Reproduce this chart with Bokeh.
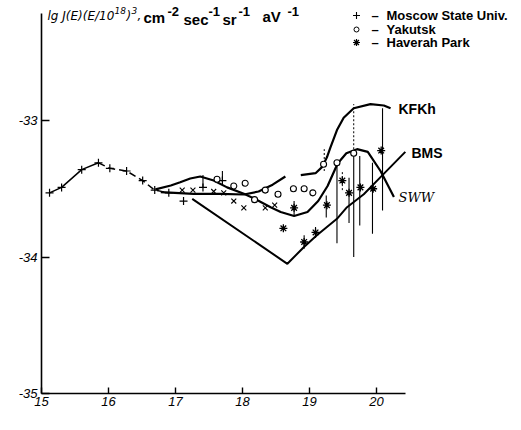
from bokeh.plotting import figure
from bokeh.models import Range1d, FixedTicker, Label
from bokeh.core.properties import value
from bokeh.embed import file_html
from bokeh.resources import INLINE

nan = float("nan")

# ---- data (lg E in eV, lg J(E)E^3 ...) ----
xticks = [15, 16, 17, 18, 19, 20]
xtick_labels = ["15", "16", "17", "18", "19", "20"]
yticks = [-35, -34, -33]
ytick_labels = ["-35", "-34", "-33"]

moscow_x = [15.12, 15.30, 15.60, 15.85, 16.02, 16.27, 16.51, 16.69, 16.90, 17.12, 17.41, 17.70]
moscow_y = [-33.53, -33.49, -33.36, -33.31, -33.35, -33.37, -33.44, -33.51, -33.53, -33.59, -33.49, -33.44]

yakutsk_x = [17.62, 17.87, 18.04, 18.18, 18.34, 18.53, 18.76, 18.92, 19.05, 19.21, 19.41, 19.66]
yakutsk_y = [-33.43, -33.48, -33.46, -33.58, -33.51, -33.54, -33.50, -33.50, -33.53, -33.32, -33.31, -33.24]

haverah_small_x = [17.10, 17.26, 17.57, 17.72, 17.87, 18.02, 18.34, 18.48]
haverah_small_y = [-33.51, -33.51, -33.52, -33.53, -33.59, -33.64, -33.64, -33.62]

haverah_big_x = [18.61, 18.77, 18.92, 19.09, 19.26, 19.49, 19.59, 19.76, 19.95, 20.07]
haverah_big_y = [-33.79, -33.64, -33.89, -33.82, -33.62, -33.44, -33.53, -33.49, -33.50, -33.22]

# error bars (solid)
bar_x = [17.41, 17.70, 18.77, 18.92, 19.09, 19.25, 19.41, 19.59, 19.66, 19.75, 19.94, 20.09]
bar_lo = [-33.49, -33.45, -33.70, -33.94, -33.86, -33.71, -33.90, -33.75, -34.00, -33.77, -33.83, -33.66]
bar_hi = [-33.40, -33.37, -33.59, -33.84, -33.78, -33.55, -33.29, -33.42, -33.24, -33.26, -33.31, -32.91]
# error bars (dotted upper parts)
dbar_x = [19.22, 19.49, 19.66]
dbar_lo = [-33.37, -33.51, -33.24]
dbar_hi = [-33.21, -33.37, -32.88]

kfkh_x = [16.78, 17.27, 17.67, 18.02, 18.24, 18.45, 18.64, nan, 18.87, 19.09, 19.19, 19.26, 19.31, 19.41, 19.51, 19.66, 19.91, 20.11, 20.21]
kfkh_y = [-33.525, -33.537, -33.537, -33.542, -33.52, -33.47, -33.41, nan, -33.40, -33.386, -33.34, -33.27, -33.20, -33.07, -32.98, -32.91, -32.88, -32.89, -32.91]

sww_x = [16.70, 16.93, 17.07, 17.22, 17.37, 17.57, 17.77, 18.02, 18.21, 18.42, 18.57, 18.77, 18.97, 19.13, 19.27, 19.42, 19.55, 19.71, 19.87, 20.06, 20.26]
sww_y = [-33.505, -33.476, -33.452, -33.425, -33.41, -33.44, -33.49, -33.537, -33.58, -33.635, -33.67, -33.70, -33.67, -33.59, -33.48, -33.315, -33.24, -33.21, -33.23, -33.37, -33.56]

bms_x = [17.25, 18.67, 18.91, 19.11, 19.41, 19.56, 19.81, 20.06, 20.43]
bms_y = [-33.574, -34.05, -33.93, -33.84, -33.72, -33.635, -33.54, -33.415, -33.23]

# ---- figure ----
X0, X_PX = 15.0, 67.0      # px per unit in x
Y0, Y_PX = -35.0, 136.5    # px per unit in y
FRAME_LEFT, FRAME_BOTTOM = 41, 393
W, H = 515, 428

def tx(px):
    return X0 + (px - FRAME_LEFT) / X_PX

def ty(py):
    return Y0 + (FRAME_BOTTOM - py) / Y_PX

p = figure(width=W, height=H, output_backend="svg", toolbar_location=None,
           x_range=Range1d(X0, tx(W)), y_range=Range1d(Y0, ty(0)),
           min_border_left=FRAME_LEFT, min_border_right=0, min_border_top=0,
           min_border_bottom=H - FRAME_BOTTOM)
p.grid.visible = False
p.outline_line_color = None
p.background_fill_color = "white"

for ax in (p.xaxis[0], p.yaxis[0]):
    ax.axis_line_color = "black"
    ax.axis_line_width = 1.6
    ax.major_tick_line_color = "black"
    ax.major_tick_line_width = 1.4
    ax.major_tick_out = 0
    ax.minor_tick_line_color = None
    ax.major_label_text_font = "Liberation Sans"
    ax.major_label_text_font_style = "italic"
    ax.major_label_text_font_size = "13px"
    ax.major_label_text_color = "black"

p.xaxis.ticker = FixedTicker(ticks=xticks)
p.xaxis.major_label_overrides = {t: s for t, s in zip(xticks, xtick_labels)}
p.xaxis.bounds = (15, tx(405))
p.xaxis.major_tick_in = 6
p.xaxis.major_label_standoff = 3

p.yaxis.ticker = FixedTicker(ticks=yticks)
p.yaxis.major_label_overrides = {t: s for t, s in zip(yticks, ytick_labels)}
p.yaxis.bounds = (-35, ty(13))
p.yaxis.major_tick_in = 8
p.yaxis.major_label_standoff = 4

# curves
p.line(moscow_x[:4], moscow_y[:4], line_color="black", line_width=1.5)
p.line(moscow_x[3:9], moscow_y[3:9], line_color="black", line_width=1.5, line_dash="7 4")
p.line(kfkh_x, kfkh_y, line_color="black", line_width=2.2)
p.line(sww_x, sww_y, line_color="black", line_width=2.2)
p.line(bms_x, bms_y, line_color="black", line_width=2.0)

# error bars
p.segment(bar_x, bar_lo, bar_x, bar_hi, line_color="black", line_width=1.1)
p.segment(dbar_x, dbar_lo, dbar_x, dbar_hi, line_color="black", line_width=1.0, line_dash="2 2")

# points
p.scatter(moscow_x, moscow_y, marker="cross", size=8, line_color="black", line_width=1.2)
p.scatter(haverah_small_x, haverah_small_y, marker="x", size=7, line_color="black", line_width=1.1)
p.scatter(haverah_big_x, haverah_big_y, marker="asterisk", size=8, line_color="black", line_width=1.3)
p.scatter(yakutsk_x, yakutsk_y, marker="circle", size=6, line_color="black", fill_color="white", line_width=1.1)


def txt(px, py, s, size="13px", font="Liberation Sans", style="bold"):
    p.text([tx(px)], [ty(py)], text=[s], text_font=value(font), text_font_style=style,
           text_font_size=size, text_baseline="middle", text_color="black")

# legend (drawn manually)
leg_rows = [15, 29, 42]
p.scatter([tx(356)], [ty(leg_rows[0])], marker="cross", size=7, line_color="black", line_width=1.1)
p.scatter([tx(356)], [ty(leg_rows[1])], marker="circle", size=5, line_color="black", fill_color="white", line_width=1.0)
p.scatter([tx(356)], [ty(leg_rows[2])], marker="asterisk", size=7, line_color="black", line_width=1.2)
legend_texts = ["Moscow State Univ.", "Yakutsk", "Haverah Park"]
for row, s in zip(leg_rows, legend_texts):
    txt(371, row, "–")
    txt(386, row, s)

# curve labels
txt(398, 108, "KFKh", size="14px")
txt(411, 152, "BMS", size="14px")
txt(398, 197, "SWW", size="13px", font="DejaVu Serif", style="italic")

# y-axis title at top
IT = "DejaVu Sans"
txt(47, 15, "lg J(E)(E/10", size="12px", font=IT, style="italic")
txt(114, 10, "18", size="9px", font=IT, style="italic")
txt(126, 15, ")", size="12px", font=IT, style="italic")
txt(131, 10, "3", size="9px", font=IT, style="italic")
txt(137, 15, ",", size="12px", font=IT, style="italic")
txt(143, 17, "cm", size="15px")
txt(167, 11, "-2", size="13px")
txt(183, 19, "sec", size="15px")
txt(208, 11, "-1", size="13px")
txt(222, 19, "sr", size="15px")
txt(238, 11, "-1", size="13px")
txt(262, 16, "aV", size="15px")
txt(287, 11, "-1", size="13px")

# x-axis title
p.add_layout(Label(x=tx(318), y=ty(421), text="lg E", text_font="DejaVu Sans", text_font_style="italic",
                   text_font_size="12px", text_baseline="middle", text_color="black"))
p.add_layout(Label(x=tx(346), y=ty(421), text=", eV", text_font="Liberation Sans", text_font_style="bold",
                   text_font_size="12px", text_baseline="middle", text_color="black"))

open("out.html", "w").write(file_html(p, INLINE))
